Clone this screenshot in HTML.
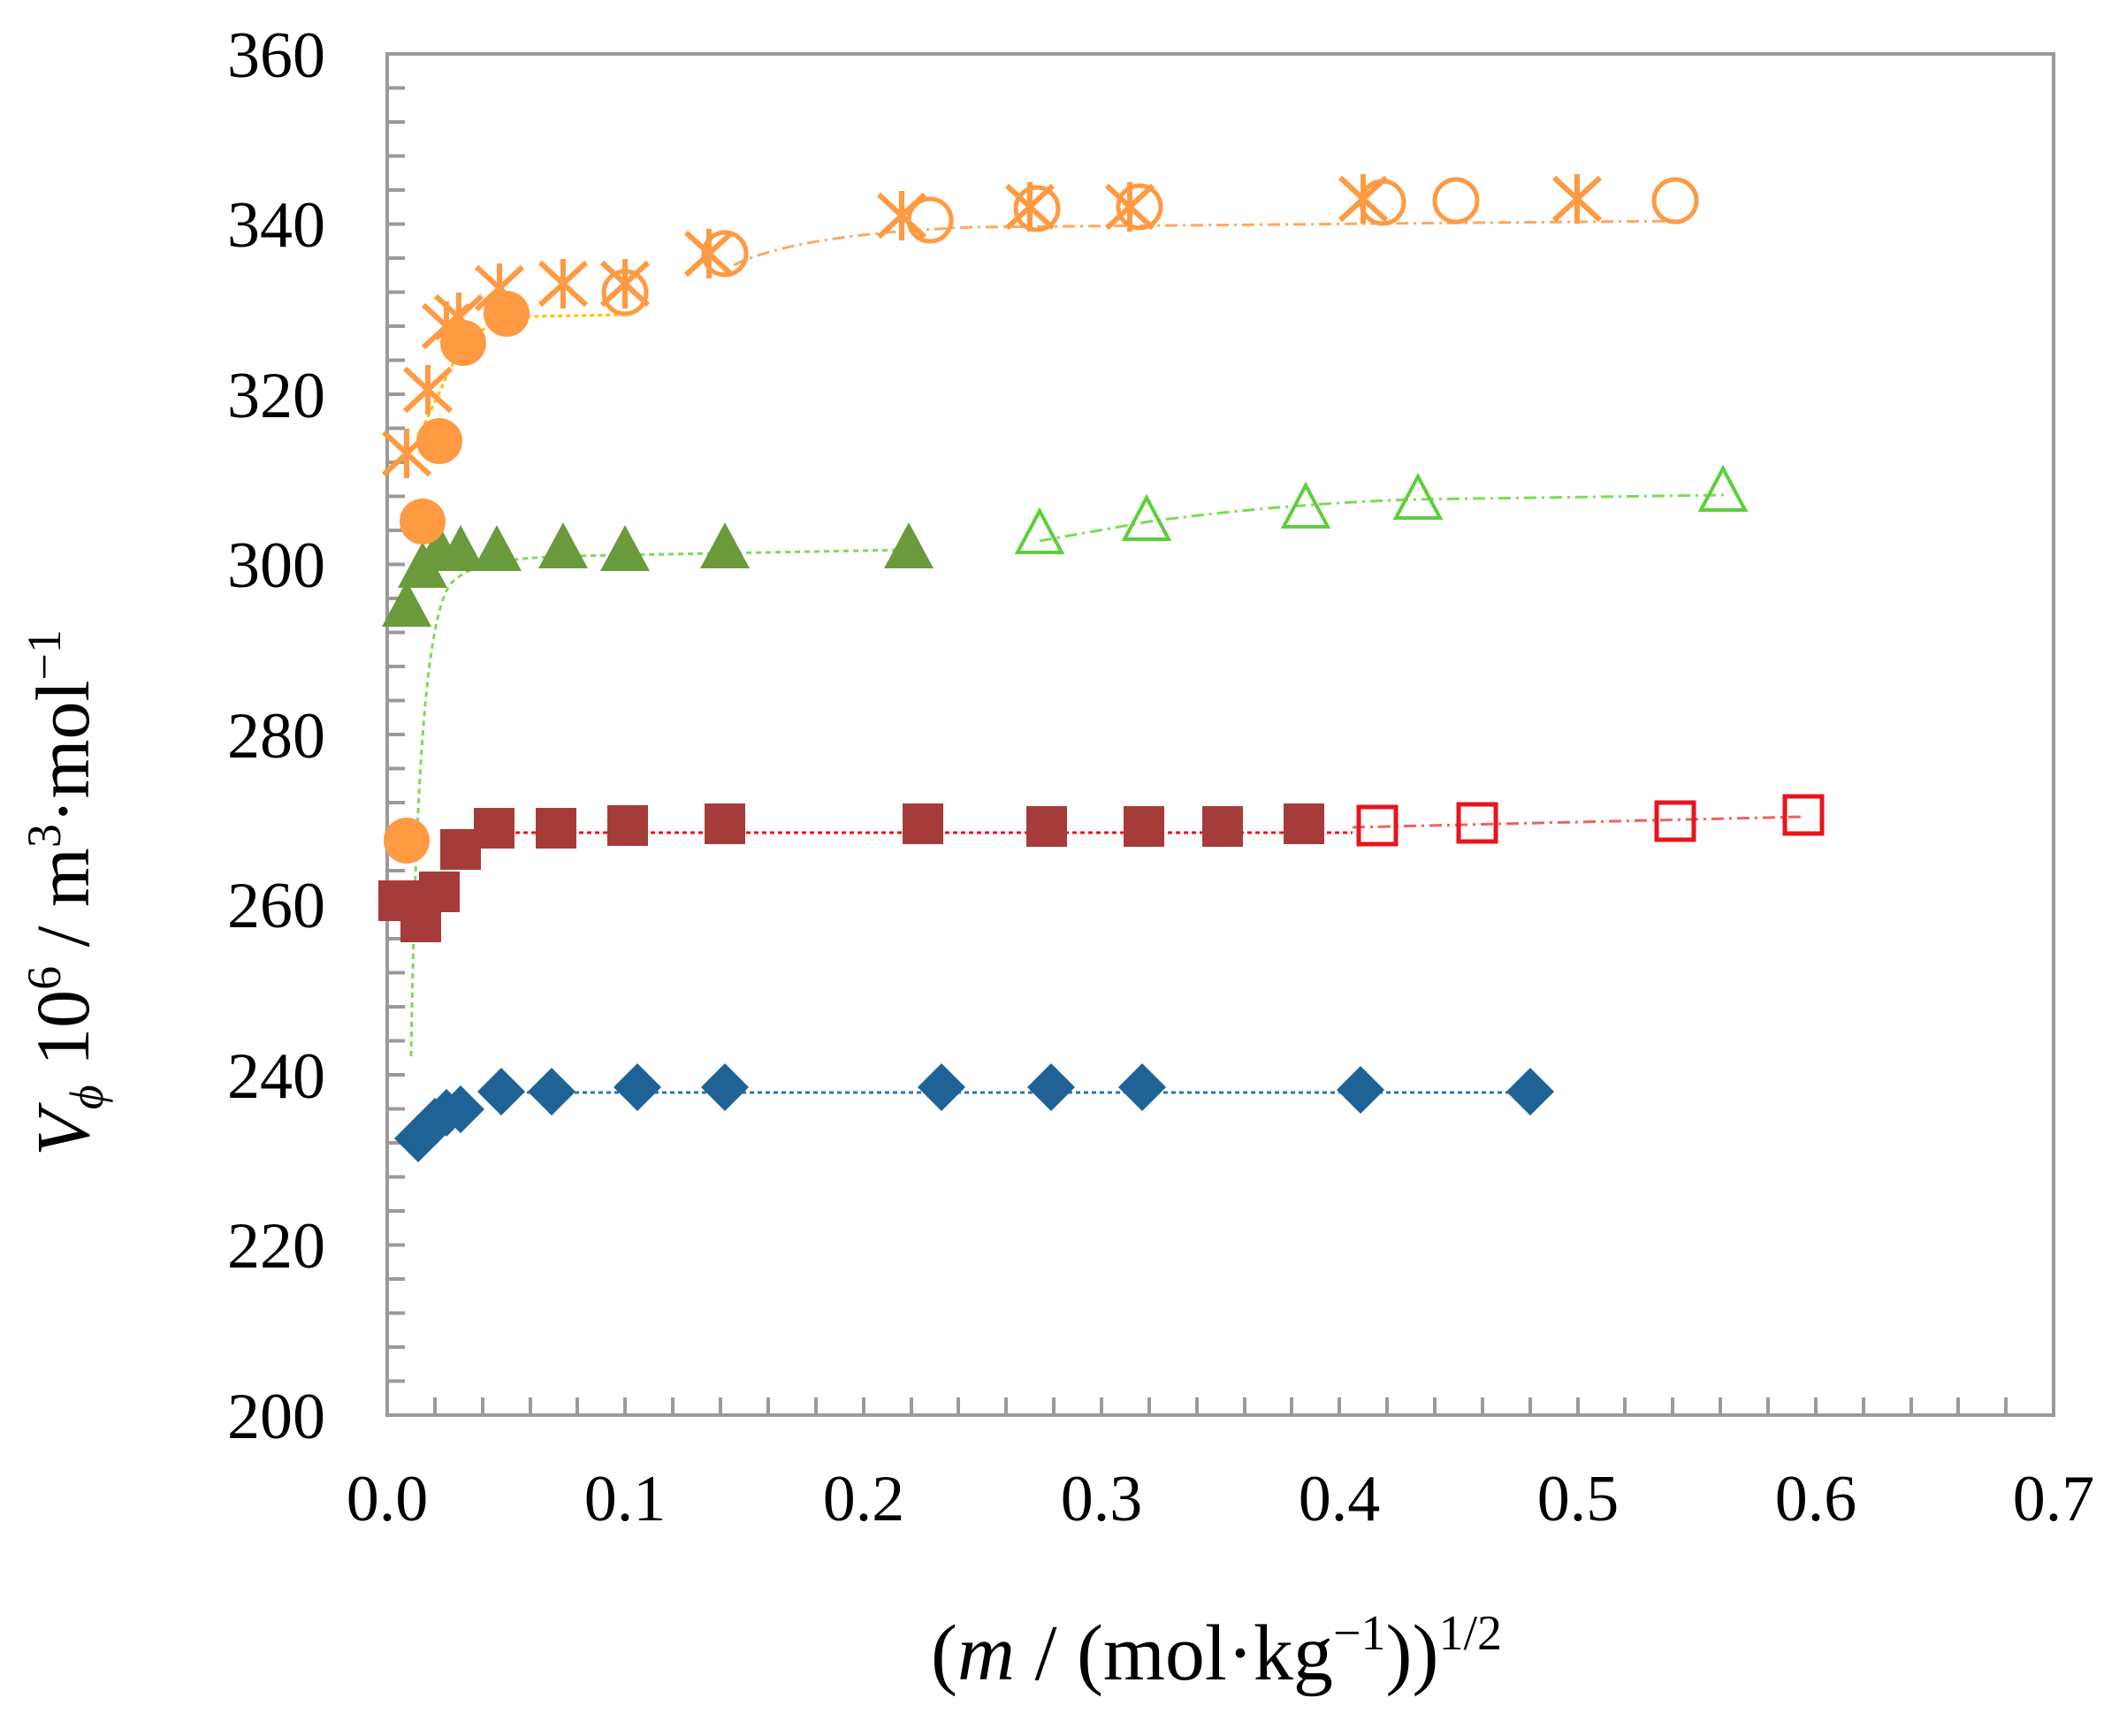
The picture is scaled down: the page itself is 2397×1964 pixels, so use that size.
<!DOCTYPE html>
<html><head><style>body{margin:0;background:#fff}svg{display:block}</style></head><body>
<svg xmlns="http://www.w3.org/2000/svg" width="2397" height="1964" viewBox="0 0 2397 1964">
<defs>
<path id="dm" d="M0,-27 L27,0 L0,27 L-27,0Z" fill="#1f6396"/>
<rect id="sq" x="-23" y="-23" width="46" height="46" fill="#a63c3a"/>
<rect id="osq" x="-21" y="-21" width="42" height="42" fill="none" stroke="#e8141c" stroke-width="5"/>
<circle id="fc" r="26" fill="#ff9a42"/>
<circle id="oc" r="24" fill="none" stroke="#ff9a42" stroke-width="5"/>
<path id="tr" d="M0,-30 L28,22 L-28,22Z" fill="#6a9a3c"/>
<path id="otr" d="M0,-27 L25,20 L-25,20Z" fill="none" stroke="#5ccf3a" stroke-width="4"/>
<g id="st" stroke="#ff9a42" stroke-width="6"><path d="M-26,-24 L26,24 M-26,24 L26,-24 M0,-28 L0,28"/></g>
</defs>
<rect x="438" y="61" width="1885" height="1540" fill="none" stroke="#9a9a9a" stroke-width="4"/>
<g stroke="#9a9a9a" stroke-width="4">
<path d="M438,99.5h20M438,138h20M438,176.5h20M438,215h20M438,253.5h20M438,292h20M438,330.5h20M438,369h20M438,407.5h20M438,446h20M438,484.5h20M438,523h20M438,561.5h20M438,600h20M438,638.5h20M438,677h20M438,715.5h20M438,754h20M438,792.5h20M438,831h20M438,869.5h20M438,908h20M438,946.5h20M438,985h20M438,1023.5h20M438,1062h20M438,1100.5h20M438,1139h20M438,1177.5h20M438,1216h20M438,1254.5h20M438,1293h20M438,1331.5h20M438,1370h20M438,1408.5h20M438,1447h20M438,1485.5h20M438,1524h20M438,1562.5h20"/>
<path d="M492,1601v-20M546,1601v-20M600,1601v-20M653,1601v-20M707,1601v-20M761,1601v-20M815,1601v-20M869,1601v-20M923,1601v-20M977,1601v-20M1031,1601v-20M1084,1601v-20M1138,1601v-20M1192,1601v-20M1246,1601v-20M1300,1601v-20M1354,1601v-20M1408,1601v-20M1461,1601v-20M1515,1601v-20M1569,1601v-20M1623,1601v-20M1677,1601v-20M1731,1601v-20M1785,1601v-20M1838,1601v-20M1892,1601v-20M1946,1601v-20M2000,1601v-20M2054,1601v-20M2108,1601v-20M2162,1601v-20M2215,1601v-20M2269,1601v-20"/>
</g>
<g font-family="Liberation Serif, serif" font-size="74" fill="#000" text-anchor="end">
<text x="368" y="87">360</text><text x="368" y="279">340</text><text x="368" y="472">320</text><text x="368" y="664">300</text><text x="368" y="857">280</text><text x="368" y="1049">260</text><text x="368" y="1242">240</text><text x="368" y="1434">220</text><text x="368" y="1627">200</text>
</g>
<g font-family="Liberation Serif, serif" font-size="74" fill="#000" text-anchor="middle">
<text x="438" y="1720">0.0</text><text x="707" y="1720">0.1</text><text x="977" y="1720">0.2</text><text x="1246" y="1720">0.3</text><text x="1515" y="1720">0.4</text><text x="1785" y="1720">0.5</text><text x="2054" y="1720">0.6</text><text x="2323" y="1720">0.7</text>
</g>
<text x="1376" y="1900" font-family="Liberation Serif, serif" font-size="90" text-anchor="middle">(<tspan font-style="italic">m</tspan> / (mol·kg<tspan font-size="56" dy="-34">−1</tspan><tspan dy="34">))</tspan><tspan font-size="56" dy="-34">1/2</tspan></text>
<text transform="translate(100,1010) rotate(-90)" font-family="Liberation Serif, serif" font-size="86" text-anchor="middle"><tspan font-style="italic">V</tspan><tspan font-style="italic" font-size="54" dy="16">ϕ</tspan><tspan dy="-16"> 10</tspan><tspan font-size="54" dy="-32">6</tspan><tspan dy="32"> / m</tspan><tspan font-size="54" dy="-32">3</tspan><tspan dy="32">·mol</tspan><tspan font-size="54" dy="-32">−1</tspan></text>
<g fill="none" stroke-width="3">
<path d="M560,1236H1745" stroke="#2e75b6" stroke-dasharray="5,4"/>
<path d="M520,942H1530" stroke="#e8141c" stroke-dasharray="5,4"/>
<path d="M1530,936L2040,924" stroke="#f06060" stroke-dasharray="14,6,3,6"/>
<path d="M465,1195C470,900 480,700 510,660C540,630 600,630 700,628L1030,622" stroke="#7ed957" stroke-dasharray="6,5"/>
<path d="M1176,612L1300,590Q1450,570 1600,565L1950,560" stroke="#7ed957" stroke-dasharray="14,6,3,6"/>
<path d="M480,480L520,395Q550,360 600,358L710,356" stroke="#ffc000" stroke-dasharray="5,4"/>
<path d="M830,300Q900,265 1100,257L1900,250" stroke="#ffa860" stroke-dasharray="14,6,3,6"/>
</g>
<use href="#dm" x="473" y="1288"/><use href="#dm" x="492" y="1269"/><use href="#dm" x="505" y="1259"/><use href="#dm" x="521" y="1255"/><use href="#dm" x="567" y="1235"/><use href="#dm" x="624" y="1235"/><use href="#dm" x="721" y="1230"/><use href="#dm" x="820" y="1230"/><use href="#dm" x="1065" y="1230"/><use href="#dm" x="1189" y="1230"/><use href="#dm" x="1292" y="1230"/><use href="#dm" x="1539" y="1233"/><use href="#dm" x="1731" y="1235"/>
<use href="#sq" x="451" y="1019"/><use href="#sq" x="476" y="1043"/><use href="#sq" x="497" y="1009"/><use href="#sq" x="521" y="961"/><use href="#sq" x="559" y="937"/><use href="#sq" x="629" y="937"/><use href="#sq" x="710" y="934"/><use href="#sq" x="820" y="932"/><use href="#sq" x="1044" y="932"/><use href="#sq" x="1184" y="935"/><use href="#sq" x="1294" y="935"/><use href="#sq" x="1383" y="935"/><use href="#sq" x="1475" y="932"/>
<use href="#osq" x="1558" y="934"/><use href="#osq" x="1671" y="931"/><use href="#osq" x="1895" y="929"/><use href="#osq" x="2040" y="922"/>
<use href="#tr" x="460" y="687"/><use href="#tr" x="478" y="643"/><use href="#tr" x="497" y="624"/><use href="#tr" x="521" y="624"/><use href="#tr" x="562" y="624"/><use href="#tr" x="637" y="621"/><use href="#tr" x="707" y="624"/><use href="#tr" x="820" y="621"/><use href="#tr" x="1028" y="621"/>
<use href="#otr" x="1176" y="605"/><use href="#otr" x="1297" y="590"/><use href="#otr" x="1477" y="576"/><use href="#otr" x="1604" y="566"/><use href="#otr" x="1949" y="557"/>
<use href="#st" x="460" y="513"/><use href="#st" x="484" y="441"/><use href="#st" x="505" y="369"/><use href="#st" x="519" y="359"/><use href="#st" x="565" y="326"/><use href="#st" x="637" y="321"/><use href="#st" x="707" y="321"/><use href="#st" x="802" y="287"/><use href="#st" x="1020" y="244"/><use href="#st" x="1165" y="234"/><use href="#st" x="1278" y="234"/><use href="#st" x="1542" y="225"/><use href="#st" x="1784" y="225"/>
<use href="#oc" x="707" y="331"/><use href="#oc" x="820" y="287"/><use href="#oc" x="1052" y="249"/><use href="#oc" x="1173" y="236"/><use href="#oc" x="1289" y="234"/><use href="#oc" x="1564" y="229"/><use href="#oc" x="1647" y="227"/><use href="#oc" x="1895" y="227"/>
<use href="#fc" x="460" y="951"/><use href="#fc" x="478" y="590"/><use href="#fc" x="497" y="499"/><use href="#fc" x="524" y="388"/><use href="#fc" x="573" y="355"/>
</svg>
</body></html>
